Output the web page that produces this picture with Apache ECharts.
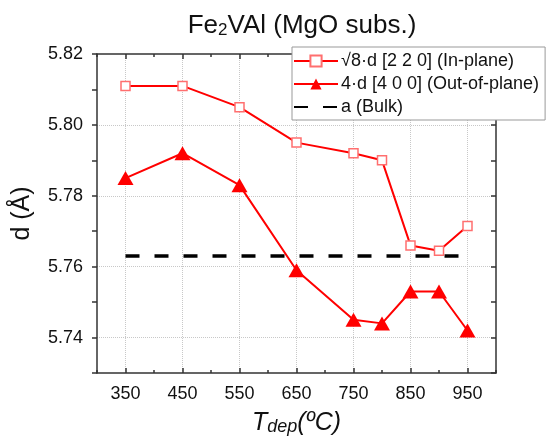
<!DOCTYPE html>
<html>
<head>
<meta charset="utf-8">
<script src="https://cdn.jsdelivr.net/npm/echarts@6/dist/echarts.min.js"></script>
<style>
html,body{margin:0;padding:0;background:#fff;}
#chart{width:553px;height:447px;}
</style>
</head>
<body>
<div id="chart"></div>
<script>
// ---- data ----
var temps = [350, 450, 550, 650, 750, 800, 850, 900, 950];
var inPlane = [5.811, 5.811, 5.805, 5.795, 5.792, 5.790, 5.766, 5.7645, 5.7715];
var outPlane = [5.785, 5.792, 5.783, 5.759, 5.745, 5.744, 5.753, 5.753, 5.742];
var bulkTemps = [350, 950];
var bulkValue = [5.763, 5.763];
var xTickLabels = [350, 450, 550, 650, 750, 850, 950];
var yTickLabels = [5.74, 5.76, 5.78, 5.80, 5.82];
var yGridValues = [5.74, 5.76, 5.78, 5.80];
var seriesNames = ['\u221A8\u00B7d [2 2 0] (In-plane)', '4\u00B7d [4 0 0] (Out-of-plane)', 'a (Bulk)'];

function pairs(xs, ys) { return xs.map(function (x, i) { return [x, ys[i]]; }); }

var FONT = 'Liberation Sans, Arial, sans-serif';
var AX = '#333';
var GRID = '#c8c8c8';

var chart = echarts.init(document.getElementById('chart'), null, {renderer: 'canvas'});

var xBase = {type: 'value', min: 300, max: 1000, interval: 50, gridIndex: 0};
var yBase = {type: 'value', min: 5.73, max: 5.82, interval: 0.01, gridIndex: 0};

var option = {
  backgroundColor: '#fff',
  animation: false,
  title: {
    text: '{a|Fe}{s|2}{a|VAl (MgO subs.)}',
    left: 297,
    top: 4,
    textAlign: 'center',
    textStyle: {
      fontWeight: 'normal',
      rich: {
        a: {fontFamily: FONT, fontSize: 26, fontWeight: 'normal', color: '#111', lineHeight: 30, verticalAlign: 'bottom'},
        s: {fontFamily: FONT, fontSize: 17, fontWeight: 'normal', color: '#111', lineHeight: 12, verticalAlign: 'bottom'}
      }
    }
  },
  grid: {left: 97, right: 57, top: 54, bottom: 74, containLabel: false},
  legend: {
    orient: 'vertical',
    left: 292,
    top: 47,
    itemWidth: 44,
    itemHeight: 14,
    itemGap: 5,
    padding: [5, 6, 4, 1],
    backgroundColor: '#fff',
    borderColor: '#999',
    borderWidth: 1,
    borderRadius: 0,
    textStyle: {fontFamily: FONT, fontSize: 18, color: '#111', padding: [0, 0, 0, -2]},
    data: [
      {name: seriesNames[0]},
      {name: seriesNames[1]},
      {name: seriesNames[2], itemStyle: {opacity: 0}}
    ],
    z: 10
  },
  xAxis: [
    Object.assign({}, xBase, {
      position: 'bottom',
      name: '{i|T}{s|dep}{i|(\u00BAC)}',
      nameLocation: 'middle',
      nameGap: 35,
      nameTextStyle: {
        rich: {
          i: {fontFamily: FONT, fontSize: 25, fontStyle: 'italic', color: '#111', lineHeight: 28, verticalAlign: 'bottom'},
          s: {fontFamily: FONT, fontSize: 18, fontStyle: 'italic', color: '#111', lineHeight: 12, verticalAlign: 'bottom'}
        }
      },
      axisLine: {show: true, onZero: false, lineStyle: {color: AX, width: 1.5}},
      axisTick: {show: true, inside: true, length: 5, customValues: xTickLabels, lineStyle: {color: AX, width: 1.5}},
      axisLabel: {show: true, customValues: xTickLabels, margin: 12, fontFamily: FONT, fontSize: 18, color: '#111'},
      splitLine: {show: true, lineStyle: {color: GRID, type: 'dotted', width: 1}}
    }),
    Object.assign({}, xBase, {
      position: 'bottom',
      axisLine: {show: false, onZero: false},
      axisTick: {show: true, inside: true, length: 3, lineStyle: {color: AX, width: 1.5}},
      axisLabel: {show: false},
      splitLine: {show: false}
    }),
    Object.assign({}, xBase, {
      position: 'top',
      axisLine: {show: true, onZero: false, lineStyle: {color: AX, width: 1.5}},
      axisTick: {show: true, inside: true, length: 5, customValues: xTickLabels, lineStyle: {color: AX, width: 1.5}},
      axisLabel: {show: false},
      splitLine: {show: false}
    }),
    Object.assign({}, xBase, {
      position: 'top',
      axisLine: {show: false, onZero: false},
      axisTick: {show: true, inside: true, length: 3, lineStyle: {color: AX, width: 1.5}},
      axisLabel: {show: false},
      splitLine: {show: false}
    })
  ],
  yAxis: [
    Object.assign({}, yBase, {
      position: 'left',
      name: 'd (\u00C5)',
      nameLocation: 'middle',
      nameGap: 62,
      nameRotate: 90,
      nameTextStyle: {fontFamily: FONT, fontSize: 25, color: '#111'},
      axisLine: {show: true, onZero: false, lineStyle: {color: AX, width: 1.5}},
      axisTick: {show: true, inside: false, length: 5, lineStyle: {color: AX, width: 1.5}},
      axisLabel: {show: true, customValues: yTickLabels, margin: 14, fontFamily: FONT, fontSize: 18, color: '#111',
        formatter: function (v) { return v.toFixed(2); }},
      splitLine: {show: false}
    }),
    Object.assign({}, yBase, {
      position: 'left',
      axisLine: {show: false, onZero: false},
      axisTick: {show: false, customValues: yGridValues},
      axisLabel: {show: false},
      splitLine: {show: true, lineStyle: {color: GRID, type: 'dotted', width: 1}}
    }),
    Object.assign({}, yBase, {
      position: 'right',
      axisLine: {show: true, onZero: false, lineStyle: {color: AX, width: 1.5}},
      axisTick: {show: true, inside: true, length: 5, lineStyle: {color: AX, width: 1.5}},
      axisLabel: {show: false},
      splitLine: {show: false}
    })
  ],
  series: [
    {
      name: seriesNames[0],
      type: 'line',
      xAxisIndex: 0, yAxisIndex: 0,
      data: pairs(temps, inPlane),
      symbol: 'rect',
      symbolSize: 9,
      itemStyle: {color: '#fff', borderColor: '#ff6f6f', borderWidth: 1.5},
      lineStyle: {color: '#ff0000', width: 2},
      z: 3
    },
    {
      name: seriesNames[1],
      type: 'line',
      xAxisIndex: 0, yAxisIndex: 0,
      data: pairs(temps, outPlane),
      symbol: 'triangle',
      symbolSize: [16, 14],
      itemStyle: {color: '#ff0000'},
      lineStyle: {color: '#ff0000', width: 2},
      z: 4
    },
    {
      name: seriesNames[2],
      type: 'line',
      xAxisIndex: 0, yAxisIndex: 0,
      data: pairs(bulkTemps, bulkValue),
      symbol: 'none',
      itemStyle: {color: '#000'},
      lineStyle: {color: '#000', width: 3.5, type: [14, 15]},
      z: 2
    }
  ]
};
chart.setOption(option);
</script>
</body>
</html>
